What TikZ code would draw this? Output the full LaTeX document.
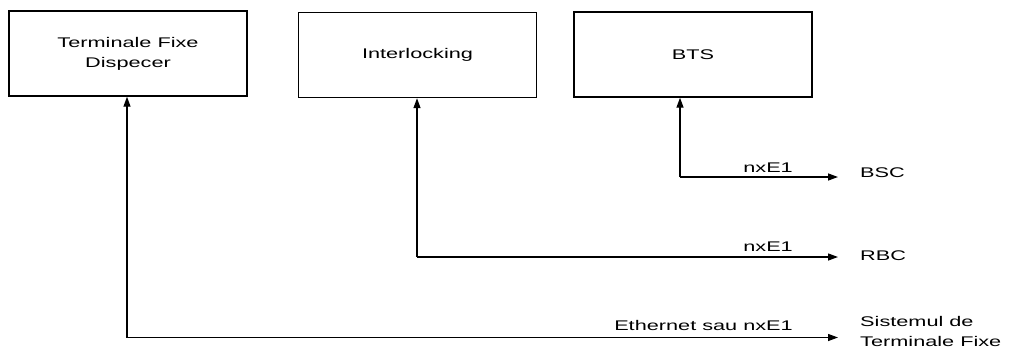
\documentclass[tikz,border=0pt]{standalone}
\usepackage{fontspec}
\setmainfont{Liberation Sans}
\usetikzlibrary{arrows.meta}
\newcommand{\wx}[1]{\scalebox{1.55}[1]{#1}}
\begin{document}
\begin{tikzpicture}[x=1pt,y=-1pt,
  box/.style={draw, line width=1.4pt, minimum width=238pt, minimum height=85pt,
    inner sep=0pt, align=center, font=\fontsize{14}{20}\selectfont},
  conn/.style={line width=1.3pt, -{Triangle[length=10pt,width=7pt]}},
  lbl/.style={font=\fontsize{14}{20}\selectfont, inner sep=0pt, align=left},
]
\useasboundingbox (0,0) rectangle (1011,349);
% boxes
\node[box] (tfd) at (128,53.5) {\wx{Terminale Fixe}\\\wx{Dispecer}};
\node[box] (ilk) at (417.5,55) {\wx{Interlocking}};
\node[box] (bts) at (693,54.5) {\wx{BTS}};
% end labels
\node[lbl, anchor=base west] (bsc) at (860,177) {\wx{BSC}};
\node[lbl, anchor=base west] (rbc) at (860,260) {\wx{RBC}};
\node[lbl, anchor=base west] (sys) at (860,346) {\wx{Sistemul de}\\\wx{Terminale Fixe}};
% corners
\coordinate (c1) at (127,337.5);
\coordinate (c2) at (417,257);
\coordinate (c3) at (680,177);
\coordinate (e1) at (838,337.5);
\coordinate (e2) at (838,257);
\coordinate (e3) at (838,177);
% connectors
\draw[conn] (c1) -- (c1 |- tfd.south);
\draw[conn] (c1) -- (e1);
\draw[conn] (c2) -- (c2 |- ilk.south);
\draw[conn] (c2) -- (e2);
\draw[conn] (c3) -- (c3 |- bts.south);
\draw[conn] (c3) -- (e3);
% connector labels
\node[lbl, anchor=base east] (l3) at (793,172) {\wx{nxE1}};
\node[lbl, anchor=base east] (l2) at (793,251) {\wx{nxE1}};
\node[lbl, anchor=base east] (l1) at (793,330) {\wx{Ethernet sau nxE1}};
\end{tikzpicture}
\end{document}
